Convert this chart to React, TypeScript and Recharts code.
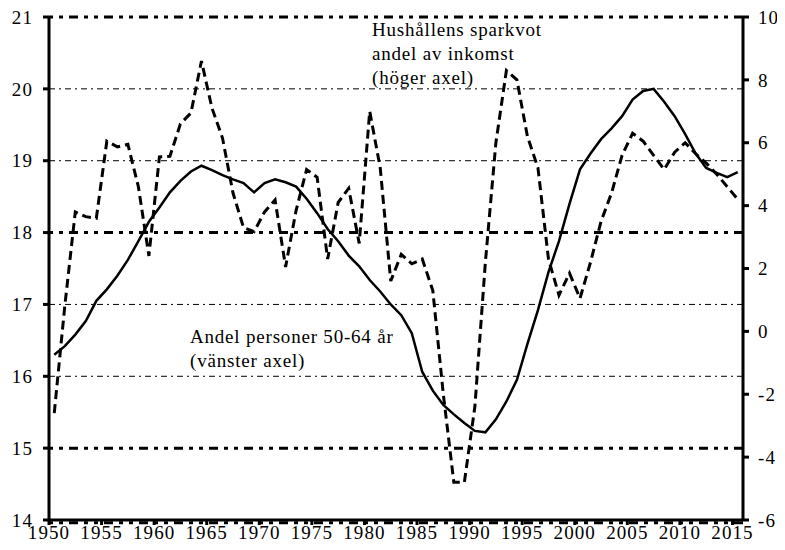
import React from 'react';
import { LineChart, Line, XAxis, YAxis, ReferenceLine } from 'recharts';

const YEARS = [
  1950, 1951, 1952, 1953, 1954, 1955, 1956, 1957, 1958, 1959,
  1960, 1961, 1962, 1963, 1964, 1965, 1966, 1967, 1968, 1969,
  1970, 1971, 1972, 1973, 1974, 1975, 1976, 1977, 1978, 1979,
  1980, 1981, 1982, 1983, 1984, 1985, 1986, 1987, 1988, 1989,
  1990, 1991, 1992, 1993, 1994, 1995, 1996, 1997, 1998, 1999,
  2000, 2001, 2002, 2003, 2004, 2005, 2006, 2007, 2008, 2009,
  2010, 2011, 2012, 2013, 2014, 2015,
];

// Andel personer 50-64 år (vänster axel)
const SHARE_50_64 = [
  16.3, 16.42, 16.58, 16.77, 17.05, 17.21, 17.4, 17.62, 17.88, 18.15,
  18.35, 18.56, 18.72, 18.85, 18.93, 18.87, 18.8, 18.74, 18.69, 18.56,
  18.69, 18.74, 18.7, 18.64, 18.47, 18.27, 18.05, 17.88, 17.68, 17.53,
  17.34, 17.18, 17.0, 16.85, 16.6, 16.06, 15.8, 15.6, 15.47, 15.35,
  15.24, 15.22, 15.4, 15.65, 15.95, 16.45, 16.92, 17.45, 17.88, 18.4,
  18.88, 19.1, 19.3, 19.45, 19.62, 19.85, 19.97, 20.0, 19.82, 19.62,
  19.37, 19.1, 18.9, 18.83, 18.77, 18.84,
];

// Hushållens sparkvot, andel av inkomst (höger axel)
const SAVING_RATIO = [
  -2.6, 0.8, 3.8, 3.65, 3.6, 6.05, 5.87, 5.95, 4.6, 2.4,
  5.55, 5.57, 6.6, 6.95, 8.6, 7.1, 6.15, 4.4, 3.3, 3.17,
  3.8, 4.18, 2.05, 3.85, 5.15, 4.9, 2.3, 4.1, 4.55, 2.8,
  7.0, 5.2, 1.6, 2.45, 2.15, 2.3, 1.3, -2.0, -4.8, -4.8,
  -2.4, 2.2, 6.0, 8.3, 8.0, 6.2, 5.2, 2.3, 1.15, 1.85,
  1.05, 2.2, 3.5, 4.4, 5.6, 6.3, 6.05, 5.6, 5.15, 5.7,
  6.0, 5.65, 5.35, 5.0, 4.6, 4.2,
];

const X_TICKS = [1950, 1955, 1960, 1965, 1970, 1975, 1980, 1985, 1990, 1995, 2000, 2005, 2010, 2015];
const LEFT_TICKS = [14, 15, 16, 17, 18, 19, 20, 21];
const RIGHT_TICKS = [-6, -4, -2, 0, 2, 4, 6, 8, 10];
const HEAVY_GRID = [21, 18, 15];
const LIGHT_GRID = [20, 19, 17, 16];

// each year sits in the middle of its band
const data = YEARS.map((y, i) => ({
  x: y + 0.5,
  share: SHARE_50_64[i],
  saving: SAVING_RATIO[i],
}));

const font = 'Liberation Serif';
const tickStyle = { fontFamily: font, fontSize: 19, fill: '#000', letterSpacing: 1.1 };
const axisStroke = { stroke: '#000', strokeWidth: 3 };
const heavyDash = '4 6 4 6 9 6';

const noteStyle: React.CSSProperties = {
  position: 'absolute',
  fontFamily: font,
  fontSize: 19,
  lineHeight: '24px',
  letterSpacing: 0.8,
  whiteSpace: 'nowrap',
};

export default function App() {
  return (
    <div style={{ position: 'relative', width: 785, height: 550, margin: -8, fontFamily: font }}>
      <LineChart width={785} height={550} data={data} margin={{ top: 17, right: 0, bottom: 0, left: 0 }}>
        <XAxis
          dataKey="x"
          type="number"
          domain={[1950, 2016]}
          ticks={X_TICKS}
          interval={0}
          height={30}
          tickSize={5}
          tickMargin={1}
          tick={tickStyle}
          axisLine={axisStroke}
          tickLine={axisStroke}
        />
        <YAxis
          yAxisId="left"
          domain={[14, 21]}
          ticks={LEFT_TICKS}
          interval={0}
          width={49}
          tickSize={6}
          tickMargin={10}
          tick={tickStyle}
          axisLine={axisStroke}
          tickLine={axisStroke}
        />
        <YAxis
          yAxisId="right"
          orientation="right"
          domain={[-6, 10]}
          ticks={RIGHT_TICKS}
          interval={0}
          width={42}
          tickSize={6}
          tickMargin={9}
          tick={tickStyle}
          axisLine={axisStroke}
          tickLine={axisStroke}
        />

        {LIGHT_GRID.map((v) => (
          <ReferenceLine key={'l' + v} yAxisId="left" y={v} stroke="#000" strokeWidth={1} strokeDasharray="6 4 2 4" />
        ))}
        {HEAVY_GRID.map((v) => (
          <ReferenceLine key={'h' + v} yAxisId="left" y={v} stroke="#000" strokeWidth={3} strokeDasharray={heavyDash} />
        ))}
        <ReferenceLine yAxisId="left" y={13.96} ifOverflow="visible" stroke="#000" strokeWidth={3} strokeDasharray={heavyDash} />

        <Line
          yAxisId="right"
          dataKey="saving"
          type="linear"
          stroke="#000"
          strokeWidth={3}
          strokeDasharray="9 5"
          dot={false}
          isAnimationActive={false}
        />
        <Line
          yAxisId="left"
          dataKey="share"
          type="linear"
          stroke="#000"
          strokeWidth={2.5}
          dot={false}
          isAnimationActive={false}
        />
      </LineChart>

      <div style={{ ...noteStyle, left: 372, top: 18 }}>
        Hushållens sparkvot
        <br />
        andel av inkomst
        <br />
        (höger axel)
      </div>
      <div style={{ ...noteStyle, left: 190, top: 325 }}>
        Andel personer 50-64 år
        <br />
        (vänster axel)
      </div>
    </div>
  );
}
